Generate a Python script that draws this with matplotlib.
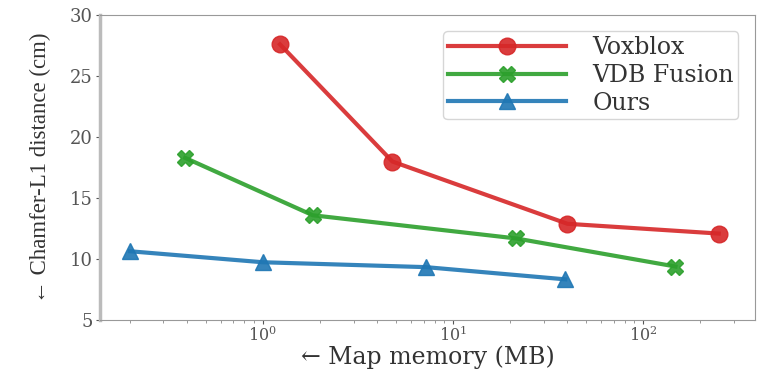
import matplotlib
matplotlib.use("Agg")
import matplotlib.pyplot as plt

plt.rcParams['font.family'] = ['DejaVu Serif']
plt.rcParams['mathtext.fontset'] = 'dejavuserif'

vox_x = [1.23, 4.8, 40, 250]
vox_y = [27.6, 18.0, 12.9, 12.1]
vdb_x = [0.39, 1.83, 21.5, 148]
vdb_y = [18.3, 13.6, 11.7, 9.4]
ours_x = [0.2, 1.0, 7.2, 39]
ours_y = [10.65, 9.75, 9.35, 8.35]

fig = plt.figure(figsize=(7.57, 3.75), dpi=100)
ax = fig.add_axes([0.132, 0.146, 0.866, 0.814])

ax.plot(vox_x, vox_y, color='tab:red', marker='o', ms=12, lw=3, label='Voxblox', alpha=0.9)
ax.plot(vdb_x, vdb_y, color='tab:green', marker='X', ms=12, lw=3, label='VDB Fusion', alpha=0.9)
ax.plot(ours_x, ours_y, color='tab:blue', marker='^', ms=12, lw=3, label='Ours', alpha=0.9)

ax.set_xscale('log')
ax.set_xlim(0.139, 390)
ax.set_ylim(5, 30)
ax.set_yticks([5, 10, 15, 20, 25, 30])
ax.tick_params(axis='y', labelsize=13, colors='#555555', length=3, pad=2)
ax.tick_params(axis='x', labelsize=11.5, colors='#555555', length=3, pad=1)
ax.tick_params(axis='x', which='minor', length=2, color='#888888')
ax.set_xlabel('← Map memory (MB)', fontsize=17, color='#333333')
ax.xaxis.set_label_coords(0.5, -0.082)
ax.set_ylabel('← Chamfer-L1 distance (cm)', fontsize=16.5, color='#333333',
              labelpad=14, family=['Liberation Serif', 'DejaVu Serif'])
for s in ax.spines.values():
    s.set_color('#999999')
ax.spines['left'].set_linewidth(2.5)
ax.spines['left'].set_color('#bbbbbb')

leg = ax.legend(loc='upper right', fontsize=17, handlelength=5.0, borderpad=0.2,
                labelspacing=0.2, handletextpad=1.1, fancybox=True,
                bbox_to_anchor=(0.992, 0.985))
for t in leg.get_texts():
    t.set_color('#333333')

fig.savefig('out.png', dpi=100)
